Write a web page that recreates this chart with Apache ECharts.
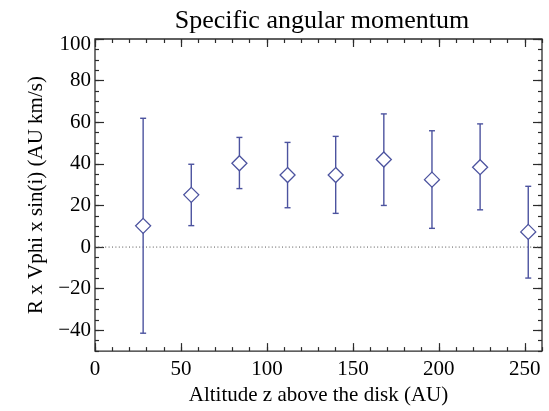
<!DOCTYPE html>
<html>
<head>
<meta charset="utf-8">
<script src="https://cdn.jsdelivr.net/npm/echarts@6/dist/echarts.min.js"></script>
<style>
  html, body { margin: 0; padding: 0; background: #fff; }
  #chart { width: 549px; height: 411px; }
</style>
</head>
<body>
<div id="chart"></div>
<script>
// Altitude above the disk (AU)
const altitude = [28, 56, 84, 112, 140, 168, 196, 224, 252];
// Specific angular momentum R x Vphi x sin(i) (AU km/s)
const momentum = [10.2, 25.1, 40.3, 34.6, 34.6, 42.1, 32.4, 38.4, 7.3];
const errLow   = [-41.4, 10.3, 28.1, 18.9, 16.2, 20.0, 9.0, 17.9, -14.9];
const errHigh  = [61.9, 39.8, 52.7, 50.3, 53.2, 64.0, 55.9, 59.2, 29.2];

// tick label values
const xTicks = [0, 50, 100, 150, 200, 250];
const yTicks = [-40, -20, 0, 20, 40, 60, 80, 100];

const titleText = 'Specific angular momentum';
const xName = 'Altitude z above the disk (AU)';
const yName = 'R x Vphi x sin(i) (AU km/s)';

const X_MIN = 0, X_MAX = 260, X_MINOR = 10;
const Y_MIN = -50, Y_MAX = 100, Y_MINOR = 5;

const INK = '#2b2b2b';
const BLUE = '#4c539f';
const SERIF = '"Liberation Serif", "DejaVu Serif", serif';

const errData = altitude.map((x, i) => [x, errLow[i], errHigh[i]]);
const pointData = altitude.map((x, i) => [x, momentum[i]]);

const fmt = v => (v < 0 ? '\u2212' + Math.abs(v) : String(v));
// the top y label sits a little below the frame corner
const fmtY = v => (v === Y_MAX ? '{top|' + fmt(v) + '}' : fmt(v));

// One axis layer: either major ticks at given values (optionally labelled),
// or evenly spaced short minor ticks.
function tickAxis(kind, position, opts) {
  const ax = {
    type: 'value',
    position: position,
    min: kind === 'x' ? X_MIN : Y_MIN,
    max: kind === 'x' ? X_MAX : Y_MAX,
    axisLine: { show: false, onZero: false },
    splitLine: { show: false },
    axisTick: { show: true, inside: true, length: opts.len, lineStyle: { color: INK, width: 1.2 } },
    axisLabel: { show: false }
  };
  if (opts.values) {
    ax.axisTick.customValues = opts.values;
    ax.axisLabel.customValues = opts.values;
  } else {
    ax.interval = opts.interval;
  }
  if (opts.labels) {
    Object.assign(ax.axisLabel, {
      show: true,
      color: '#000',
      fontFamily: SERIF,
      fontSize: 21,
      margin: kind === 'x' ? 8 : 4,
      formatter: kind === 'x' ? fmt : fmtY,
      rich: {
        top: { color: '#000', fontFamily: SERIF, fontSize: 21, padding: [11, 0, 0, 0] }
      }
    });
  }
  return ax;
}

const xMain = tickAxis('x', 'bottom', { values: xTicks, len: 8, labels: true });
xMain.name = xName;
xMain.nameLocation = 'middle';
xMain.nameGap = 31;
xMain.nameTextStyle = { color: '#000', fontFamily: SERIF, fontSize: 21 };

const yMain = tickAxis('y', 'left', { values: yTicks, len: 9, labels: true });
yMain.name = yName;
yMain.nameLocation = 'middle';
yMain.nameGap = 47;
yMain.nameTextStyle = { color: '#000', fontFamily: SERIF, fontSize: 21 };

const option = {
  backgroundColor: '#fff',
  animation: false,
  title: {
    text: titleText,
    left: 317,
    textAlign: 'center',
    top: 3,
    textStyle: { color: '#000', fontFamily: SERIF, fontSize: 26, fontWeight: 'normal' }
  },
  grid: {
    left: 95, right: 7, top: 39, bottom: 55,
    show: true, borderColor: INK, borderWidth: 1.3, backgroundColor: 'transparent'
  },
  xAxis: [
    xMain,
    tickAxis('x', 'bottom', { interval: X_MINOR, len: 4 }),
    tickAxis('x', 'top', { values: xTicks, len: 8 }),
    tickAxis('x', 'top', { interval: X_MINOR, len: 4 })
  ],
  yAxis: [
    yMain,
    tickAxis('y', 'left', { interval: Y_MINOR, len: 4 }),
    tickAxis('y', 'right', { values: yTicks, len: 9 }),
    tickAxis('y', 'right', { interval: Y_MINOR, len: 4 })
  ],
  series: [
    {
      // zero reference line
      type: 'line',
      data: [[X_MIN, 0], [X_MAX, 0]],
      symbol: 'none',
      silent: true,
      lineStyle: { color: '#555', width: 1, type: [1, 2.4] },
      z: 1
    },
    {
      type: 'custom',
      data: errData,
      renderItem: function (params, api) {
        const x = api.value(0);
        const lo = api.coord([x, api.value(1)]);
        const hi = api.coord([x, api.value(2)]);
        const cap = 3;
        const st = { stroke: BLUE, lineWidth: 1.4, fill: null };
        return {
          type: 'group',
          children: [
            { type: 'line', shape: { x1: lo[0], y1: lo[1], x2: hi[0], y2: hi[1] }, style: st },
            { type: 'line', shape: { x1: hi[0] - cap, y1: hi[1], x2: hi[0] + cap, y2: hi[1] }, style: st },
            { type: 'line', shape: { x1: lo[0] - cap, y1: lo[1], x2: lo[0] + cap, y2: lo[1] }, style: st }
          ]
        };
      },
      z: 2
    },
    {
      type: 'scatter',
      data: pointData,
      symbol: 'diamond',
      symbolSize: [15, 15],
      itemStyle: { color: '#fff', borderColor: BLUE, borderWidth: 1.3, opacity: 1 },
      z: 3
    }
  ]
};

const chart = echarts.init(document.getElementById('chart'), null, { renderer: 'canvas' });
chart.setOption(option);
</script>
</body>
</html>
